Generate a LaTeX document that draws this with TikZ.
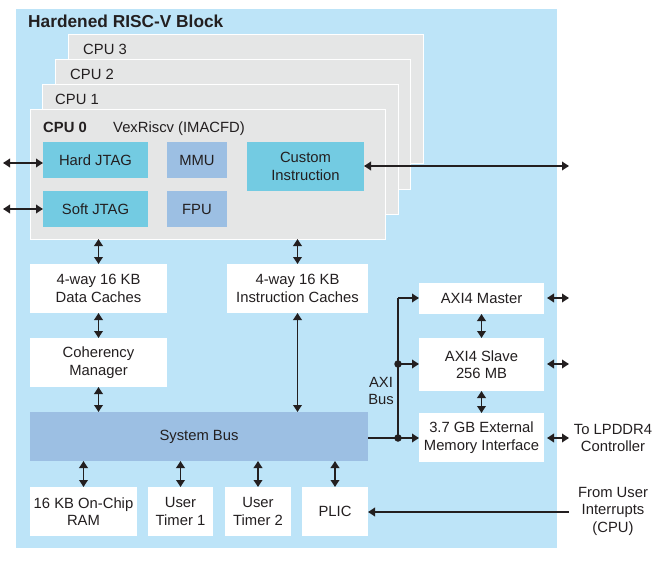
\documentclass[tikz,border=0pt]{standalone}
\usepackage{fontspec}
\setmainfont{Liberation Sans}
\usetikzlibrary{arrows.meta}
\definecolor{outerc}{HTML}{BDE4F8}
\definecolor{cyanc}{HTML}{73CBE2}
\definecolor{steel}{HTML}{9CBFE3}
\definecolor{grayc}{HTML}{E5E6E6}
\definecolor{dark}{HTML}{231F20}
\newcommand\fs{\fontsize{14.8}{17.5}\selectfont}
\newcommand\bx[7]{\node[#6,minimum width={#4-#2},minimum height={#5-#3}] (#1) at ({(#2+#4)/2},{(#3+#5)/2}) {#7};}
\tikzset{
  blk/.style={inner sep=0pt,outer sep=0pt,align=center,font=\fs,text=dark},
  wbox/.style={blk,fill=white},
  cbox/.style={blk,fill=cyanc},
  sbox/.style={blk,fill=steel},
  gbox/.style={blk,fill=grayc,draw=white,line width=1pt},
  lbl/.style={inner sep=0pt,font=\fs,text=dark,anchor=base west},
  tip/.tip={Triangle[length=7pt,width=8.5pt]},
  arr/.style={draw=dark,line width=1.8pt,tip-tip},
  arr1/.style={draw=dark,line width=1.8pt,-tip},
  bus/.style={draw=dark,line width=2.2pt},
  dot/.style={circle,fill=dark,inner sep=0pt,minimum size=7.5pt}
}
\begin{document}
\begin{tikzpicture}[x=1pt,y=-1pt]
\useasboundingbox (0,0) rectangle (661,564);
% outer block
\bx{outer}{16}{9}{557}{548}{blk,fill=outerc}{}
\node[lbl,font=\fontsize{17.3}{20}\selectfont\bfseries] (title) at (28,28) {Hardened RISC-V Block};
% CPU stack
\bx{cpu3}{68}{35}{423}{164}{gbox}{}
\node[lbl] (cpu3l) at (83,54.5) {CPU 3};
\bx{cpu2}{55}{60}{410}{190}{gbox}{}
\node[lbl] (cpu2l) at (70,79.5) {CPU 2};
\bx{cpu1}{42}{85}{398}{215}{gbox}{}
\node[lbl] (cpu1l) at (55,104.5) {CPU 1};
\bx{cpu0}{30}{110}{385}{239}{gbox}{}
\node[lbl,font=\fs\bfseries] (cpu0l) at (43,132.5) {CPU 0};
\node[lbl] (vex) at (113,132.5) {VexRiscv (IMACFD)};
\bx{hj}{43}{142}{148}{178}{cbox}{Hard JTAG}
\bx{sj}{43}{191}{148}{227}{cbox}{Soft JTAG}
\bx{mmu}{167}{142}{227}{178}{sbox}{MMU}
\bx{fpu}{167}{191}{227}{227}{sbox}{FPU}
\bx{ci}{247}{142}{364}{191}{cbox}{Custom\\Instruction}
% caches etc
\bx{dc}{30}{264}{167}{313}{wbox}{4-way 16 KB\\Data Caches}
\bx{ic}{227}{264}{368}{313}{wbox}{4-way 16 KB\\Instruction Caches}
\bx{cm}{30}{338}{167}{387}{wbox}{Coherency\\Manager}
\bx{sb}{30}{412}{368}{461}{sbox}{System Bus}
\bx{ram}{30}{487}{137}{536}{wbox}{16 KB On-Chip\\RAM}
\bx{ut1}{148}{487}{213}{536}{wbox}{User\\Timer 1}
\bx{ut2}{225}{487}{291}{536}{wbox}{User\\Timer 2}
\bx{plic}{302}{487}{368}{536}{wbox}{PLIC}
\bx{am}{419}{283}{544}{314}{wbox}{AXI4 Master}
\bx{as}{419}{338}{544}{391}{wbox}{AXI4 Slave\\256 MB}
\bx{emi}{419}{413}{544}{462}{wbox}{3.7 GB External\\Memory Interface}
% external labels
\node[blk,align=center] (axil) at (381,391) {AXI\\Bus};
\node[blk,align=center] (lpd) at (613,438) {To LPDDR4\\Controller};
\node[blk,align=center] (usr) at (613,511) {From User\\Interrupts\\(CPU)};
% free ends
\coordinate (hjx) at (3,163);
\coordinate (sjx) at (3,209);
\coordinate (cix) at (569,166);
\coordinate (amx) at (569,298);
\coordinate (asx) at (569,364);
\coordinate (emx) at (569,438);
\coordinate (usx) at (569,512);
\coordinate (j1) at (398,438);
\coordinate (j2) at (398,364);
\coordinate (j3) at (398,298);
% connectors
\draw[arr] (hjx) -- (hjx -| hj.west);
\draw[arr] (sjx) -- (sjx -| sj.west);
\draw[arr] (cix -| ci.east) -- (cix);
\draw[arr] (dc.north |- cpu0.south) -- (dc.north);
\draw[arr] (ic.north |- cpu0.south) -- (ic.north);
\draw[arr] (dc.south) -- (cm.north);
\draw[arr] (cm.south) -- (cm.south |- sb.north);
\draw[arr] (ic.south) -- (ic.south |- sb.north);
\draw[arr] (ram.north |- sb.south) -- (ram.north);
\draw[arr] (ut1.north |- sb.south) -- (ut1.north);
\draw[arr] (ut2.north |- sb.south) -- (ut2.north);
\draw[arr] (plic.north |- sb.south) -- (plic.north);
\draw[arr] (am.south) -- (as.north);
\draw[arr] (as.south) -- (emi.north);
\draw[arr] ([xshift=3pt]amx -| am.east) -- (amx);
\draw[arr] ([xshift=3pt]asx -| as.east) -- (asx);
\draw[arr] ([xshift=3pt]emx -| emi.east) -- (emx);
\draw[arr1] (usx) -- (usx -| plic.east);
\draw[bus] (j1 -| sb.east) -- (j1) -- (j3);
\draw[bus,-tip] (j3) -- (j3 -| am.west);
\draw[bus,-tip] (j2) -- (j2 -| as.west);
\draw[bus,-tip] (j1) -- (j1 -| emi.west);
\node[dot] (d1) at (j1) {};
\node[dot] (d2) at (j2) {};
\end{tikzpicture}
\end{document}
